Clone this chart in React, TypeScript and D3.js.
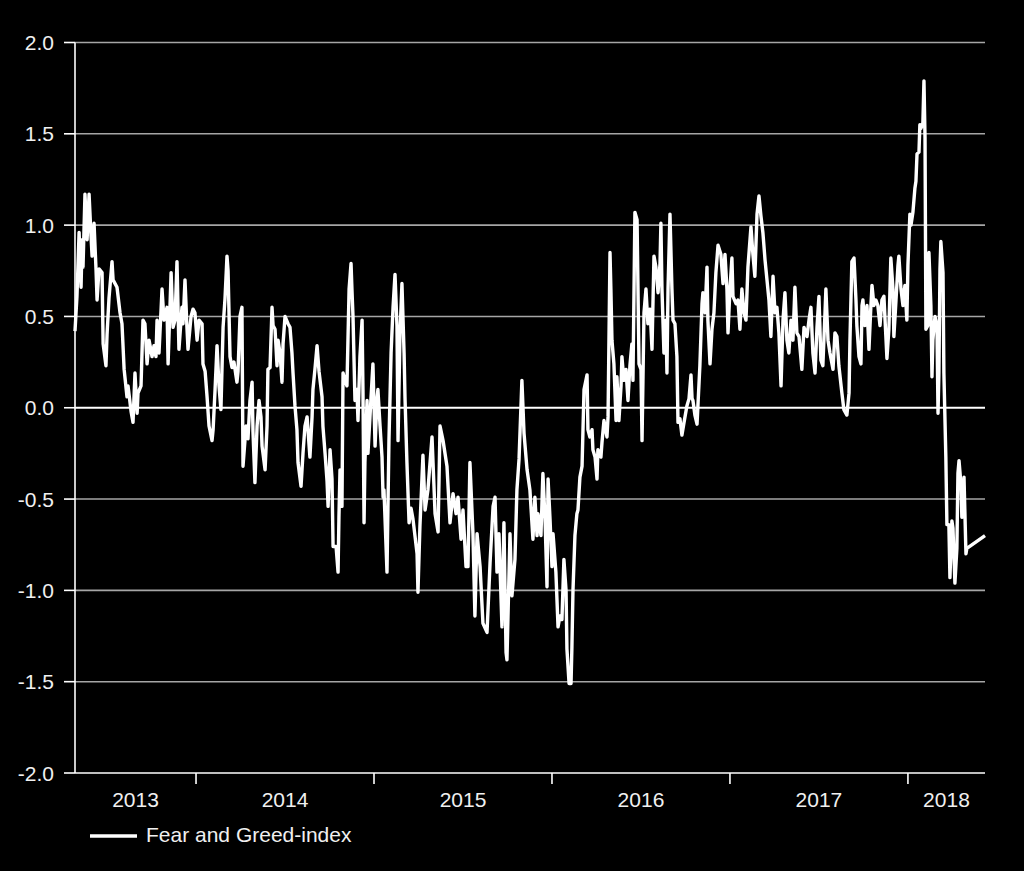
import React from 'react';
import * as d3 from 'd3';

const yTicks = [-2, -1.5, -1, -0.5, 0, 0.5, 1, 1.5, 2];
const yearTicks = [2014, 2015, 2016, 2017, 2018];
const yearLabels = ['2013', '2014', '2015', '2016', '2017', '2018'];
const startYear = 2013.32;
const endYear = 2018.433;
const seriesName = 'Fear and Greed-index';

// [decimal year, index value]
const fearGreed: [number, number][] = [
  [2013.320,0.42],[2013.331,0.61],[2013.343,0.96],[2013.354,0.66],[2013.360,0.92],[2013.365,0.77],[2013.376,1.17],[2013.388,0.92],[2013.399,1.17],[2013.410,0.94],[2013.416,0.83],[2013.427,1.01],[2013.438,0.76],[2013.444,0.59],[2013.455,0.76],[2013.472,0.74],[2013.478,0.35],[2013.494,0.23],[2013.500,0.40],[2013.511,0.60],[2013.528,0.80],[2013.534,0.70],[2013.556,0.66],[2013.573,0.52],[2013.584,0.46],[2013.596,0.21],[2013.612,0.06],[2013.618,0.12],[2013.635,-0.02],[2013.646,-0.08],[2013.657,0.19],[2013.669,-0.03],[2013.674,0.08],[2013.691,0.12],[2013.702,0.48],[2013.713,0.46],[2013.725,0.24],[2013.736,0.37],[2013.753,0.28],[2013.764,0.34],[2013.775,0.28],[2013.781,0.48],[2013.792,0.30],[2013.809,0.65],[2013.820,0.48],[2013.837,0.55],[2013.843,0.24],[2013.860,0.74],[2013.871,0.44],[2013.882,0.48],[2013.893,0.80],[2013.904,0.32],[2013.921,0.55],[2013.927,0.46],[2013.938,0.70],[2013.949,0.44],[2013.955,0.32],[2013.972,0.50],[2013.983,0.54],[2013.994,0.52],
  [2014.006,0.37],[2014.017,0.48],[2014.034,0.46],[2014.039,0.24],[2014.051,0.20],[2014.062,0.06],[2014.073,-0.10],[2014.090,-0.18],[2014.096,-0.12],[2014.107,0.10],[2014.118,0.34],[2014.129,0.12],[2014.140,-0.01],[2014.152,0.44],[2014.163,0.60],[2014.174,0.83],[2014.180,0.75],[2014.191,0.28],[2014.202,0.22],[2014.213,0.25],[2014.230,0.14],[2014.236,0.20],[2014.247,0.50],[2014.258,0.55],[2014.264,-0.32],[2014.281,-0.10],[2014.292,-0.17],[2014.303,0.04],[2014.315,0.14],[2014.320,-0.13],[2014.331,-0.41],[2014.343,-0.10],[2014.354,0.04],[2014.365,-0.05],[2014.371,-0.21],[2014.388,-0.34],[2014.399,-0.10],[2014.404,0.21],[2014.416,0.22],[2014.427,0.55],[2014.433,0.45],[2014.444,0.43],[2014.455,0.23],[2014.461,0.37],[2014.472,0.30],[2014.483,0.14],[2014.489,0.35],[2014.500,0.50],[2014.517,0.46],[2014.528,0.44],[2014.539,0.30],[2014.545,0.19],[2014.556,0.01],[2014.567,-0.12],[2014.573,-0.30],[2014.590,-0.43],[2014.601,-0.25],[2014.612,-0.10],[2014.624,-0.05],[2014.629,-0.12],[2014.640,-0.27],[2014.652,-0.05],[2014.657,0.10],[2014.669,0.22],[2014.680,0.34],[2014.691,0.20],[2014.708,0.06],[2014.713,-0.10],[2014.725,-0.25],[2014.736,-0.40],[2014.742,-0.54],[2014.753,-0.23],[2014.764,-0.39],[2014.770,-0.76],[2014.787,-0.76],[2014.798,-0.90],[2014.803,-0.60],[2014.809,-0.34],[2014.820,-0.54],[2014.826,0.19],[2014.837,0.15],[2014.848,0.12],[2014.860,0.65],[2014.871,0.79],[2014.876,0.65],[2014.882,0.50],[2014.893,0.04],[2014.904,0.10],[2014.910,-0.07],[2014.921,0.28],[2014.933,0.48],[2014.938,0.10],[2014.944,-0.63],[2014.949,-0.30],[2014.961,0.04],[2014.966,-0.25],[2014.983,0.05],[2014.994,0.24],
  [2015.006,-0.21],[2015.017,0.05],[2015.022,0.10],[2015.034,-0.10],[2015.045,-0.27],[2015.051,-0.49],[2015.056,-0.45],[2015.073,-0.90],[2015.084,-0.18],[2015.096,0.30],[2015.107,0.55],[2015.118,0.73],[2015.129,0.45],[2015.135,-0.18],[2015.146,0.40],[2015.157,0.68],[2015.169,0.30],[2015.174,0.06],[2015.185,-0.30],[2015.197,-0.63],[2015.208,-0.55],[2015.219,-0.61],[2015.230,-0.70],[2015.242,-0.80],[2015.247,-1.01],[2015.258,-0.65],[2015.275,-0.26],[2015.287,-0.56],[2015.303,-0.45],[2015.326,-0.16],[2015.343,-0.58],[2015.360,-0.68],[2015.371,-0.10],[2015.388,-0.18],[2015.410,-0.32],[2015.427,-0.63],[2015.444,-0.47],[2015.461,-0.58],[2015.472,-0.49],[2015.489,-0.72],[2015.500,-0.56],[2015.517,-0.87],[2015.528,-0.87],[2015.539,-0.30],[2015.556,-0.69],[2015.567,-1.14],[2015.579,-0.69],[2015.596,-0.87],[2015.612,-1.18],[2015.635,-1.23],[2015.652,-0.85],[2015.669,-0.54],[2015.680,-0.49],[2015.691,-0.90],[2015.702,-0.69],[2015.719,-1.20],[2015.730,-0.63],[2015.742,-1.34],[2015.747,-1.38],[2015.764,-0.69],[2015.775,-1.03],[2015.792,-0.83],[2015.803,-0.45],[2015.815,-0.28],[2015.831,0.15],[2015.843,-0.14],[2015.860,-0.34],[2015.876,-0.45],[2015.893,-0.72],[2015.904,-0.49],[2015.916,-0.70],[2015.921,-0.58],[2015.938,-0.70],[2015.949,-0.36],[2015.961,-0.61],[2015.972,-0.98],[2015.978,-0.39],[2015.989,-0.61],
  [2016.000,-0.87],[2016.006,-0.69],[2016.022,-0.90],[2016.034,-1.20],[2016.045,-1.14],[2016.056,-1.16],[2016.067,-0.83],[2016.079,-1.00],[2016.084,-1.32],[2016.096,-1.51],[2016.107,-1.51],[2016.112,-1.31],[2016.118,-1.00],[2016.129,-0.70],[2016.140,-0.58],[2016.146,-0.56],[2016.157,-0.38],[2016.169,-0.32],[2016.180,0.10],[2016.197,0.18],[2016.202,-0.12],[2016.213,-0.16],[2016.225,-0.12],[2016.230,-0.23],[2016.242,-0.27],[2016.253,-0.39],[2016.258,-0.23],[2016.275,-0.27],[2016.281,-0.19],[2016.292,-0.07],[2016.309,-0.16],[2016.315,-0.05],[2016.326,0.85],[2016.331,0.65],[2016.337,0.37],[2016.348,0.24],[2016.360,-0.07],[2016.365,0.17],[2016.376,-0.07],[2016.388,0.12],[2016.393,0.28],[2016.404,0.15],[2016.416,0.21],[2016.427,0.04],[2016.438,0.23],[2016.449,0.35],[2016.455,0.15],[2016.466,1.07],[2016.478,1.03],[2016.489,0.24],[2016.500,0.21],[2016.506,-0.18],[2016.517,0.52],[2016.528,0.65],[2016.539,0.46],[2016.551,0.54],[2016.562,0.32],[2016.573,0.83],[2016.584,0.77],[2016.596,0.63],[2016.607,0.79],[2016.612,1.01],[2016.618,0.65],[2016.629,0.30],[2016.640,0.48],[2016.646,0.19],[2016.652,0.65],[2016.663,1.06],[2016.674,0.65],[2016.680,0.48],[2016.691,0.46],[2016.702,0.28],[2016.708,-0.08],[2016.719,-0.06],[2016.730,-0.15],[2016.742,-0.08],[2016.758,0.01],[2016.770,0.05],[2016.781,0.18],[2016.787,0.05],[2016.792,0.04],[2016.803,-0.04],[2016.815,-0.09],[2016.820,0.01],[2016.831,0.23],[2016.843,0.57],[2016.848,0.63],[2016.860,0.52],[2016.871,0.77],[2016.876,0.48],[2016.888,0.24],[2016.899,0.43],[2016.910,0.52],[2016.921,0.74],[2016.933,0.89],[2016.949,0.84],[2016.961,0.68],[2016.972,0.84],[2016.983,0.65],[2016.989,0.41],
  [2017.000,0.65],[2017.011,0.82],[2017.017,0.61],[2017.034,0.57],[2017.045,0.59],[2017.056,0.43],[2017.067,0.65],[2017.079,0.52],[2017.090,0.48],[2017.101,0.77],[2017.118,0.99],[2017.129,0.84],[2017.140,0.72],[2017.152,1.06],[2017.163,1.16],[2017.174,1.05],[2017.185,0.96],[2017.197,0.81],[2017.208,0.70],[2017.219,0.59],[2017.230,0.39],[2017.242,0.72],[2017.253,0.52],[2017.264,0.55],[2017.275,0.41],[2017.287,0.12],[2017.298,0.48],[2017.309,0.63],[2017.320,0.37],[2017.331,0.30],[2017.343,0.48],[2017.354,0.37],[2017.365,0.66],[2017.376,0.41],[2017.388,0.39],[2017.404,0.21],[2017.416,0.44],[2017.433,0.39],[2017.444,0.48],[2017.455,0.55],[2017.466,0.30],[2017.478,0.19],[2017.489,0.44],[2017.500,0.61],[2017.511,0.26],[2017.522,0.23],[2017.534,0.52],[2017.539,0.65],[2017.551,0.37],[2017.562,0.30],[2017.579,0.21],[2017.590,0.41],[2017.601,0.39],[2017.612,0.23],[2017.629,0.08],[2017.640,-0.01],[2017.657,-0.04],[2017.669,0.08],[2017.674,0.36],[2017.685,0.80],[2017.697,0.82],[2017.708,0.59],[2017.713,0.45],[2017.725,0.28],[2017.736,0.24],[2017.742,0.56],[2017.747,0.59],[2017.758,0.45],[2017.770,0.56],[2017.781,0.32],[2017.792,0.56],[2017.798,0.67],[2017.809,0.56],[2017.820,0.59],[2017.831,0.56],[2017.843,0.45],[2017.854,0.59],[2017.865,0.61],[2017.876,0.39],[2017.882,0.27],[2017.893,0.43],[2017.904,0.82],[2017.916,0.65],[2017.921,0.39],[2017.933,0.59],[2017.944,0.78],[2017.949,0.83],[2017.961,0.65],[2017.972,0.56],[2017.983,0.67],[2017.994,0.48],
  [2018.000,0.78],[2018.011,1.06],[2018.017,1.00],[2018.028,1.07],[2018.039,1.20],[2018.045,1.24],[2018.051,1.39],[2018.062,1.40],[2018.067,1.55],[2018.073,1.53],[2018.084,1.56],[2018.090,1.79],[2018.096,1.48],[2018.101,0.43],[2018.112,0.45],[2018.118,0.85],[2018.129,0.56],[2018.135,0.17],[2018.140,0.37],[2018.152,0.50],[2018.163,0.45],[2018.169,-0.03],[2018.174,0.19],[2018.180,0.76],[2018.185,0.91],[2018.197,0.74],[2018.202,0.19],[2018.213,-0.27],[2018.219,-0.64],[2018.230,-0.64],[2018.236,-0.93],[2018.247,-0.62],[2018.253,-0.66],[2018.264,-0.96],[2018.275,-0.77],[2018.281,-0.36],[2018.287,-0.29],[2018.298,-0.42],[2018.303,-0.60],[2018.315,-0.38],[2018.326,-0.80],[2018.331,-0.77],[2018.433,-0.70]
];

const FONT = '"Liberation Sans", Arial, sans-serif';
const TEXT = '#f0f0f0';

export default function App() {
  const W = 1024;
  const H = 871;
  const left = 75, right = 985, top = 42.5, bottom = 773;
  const x = d3.scaleLinear().domain([startYear, endYear]).range([left, right]);
  const y = d3.scaleLinear().domain([-2, 2]).range([bottom, top]);
  const line = d3.line<[number, number]>().x(d => x(d[0])).y(d => y(d[1]));
  const bounds = [startYear, ...yearTicks, endYear];

  return (
    <svg width={W} height={H} style={{ position: 'absolute', left: 0, top: 0, background: '#000' }}>
      <rect x={0} y={0} width={W} height={H} fill="#000" />
      {yTicks.filter(t => t !== -2).map(t => (
        <line key={'g' + t} x1={left} x2={right} y1={y(t)} y2={y(t)}
          stroke={t === 0 ? '#ffffff' : '#a6a6a6'} strokeWidth={t === 0 ? 2 : 1.6} />
      ))}
      {yTicks.map(t => (
        <g key={'yt' + t}>
          <line x1={left - 11} x2={left} y1={y(t)} y2={y(t)} stroke="#fff" strokeWidth={1.6} />
          <text x={54} y={y(t) + 7.5} textAnchor="end" fill={TEXT} fontSize={21} fontFamily={FONT}>
            {t.toFixed(1)}
          </text>
        </g>
      ))}
      <line x1={left} x2={left} y1={top} y2={bottom} stroke="#fff" strokeWidth={1.6} />
      <line x1={left} x2={right} y1={bottom} y2={bottom} stroke="#fff" strokeWidth={1.6} />
      {yearTicks.map(t => (
        <line key={'xt' + t} x1={x(t)} x2={x(t)} y1={bottom} y2={bottom + 11} stroke="#fff" strokeWidth={1.6} />
      ))}
      {yearLabels.map((lab, i) => (
        <text key={lab} x={(x(bounds[i]) + x(bounds[i + 1])) / 2} y={807} textAnchor="middle"
          fill={TEXT} fontSize={21} fontFamily={FONT}>{lab}</text>
      ))}
      <path d={line(fearGreed) || ''} fill="none" stroke="#fff" strokeWidth={3.4} strokeLinejoin="round" />
      <line x1={90} x2={137} y1={836} y2={836} stroke="#fff" strokeWidth={3.5} />
      <text x={146} y={842} fill={TEXT} fontSize={21} fontFamily={FONT}>{seriesName}</text>
    </svg>
  );
}
